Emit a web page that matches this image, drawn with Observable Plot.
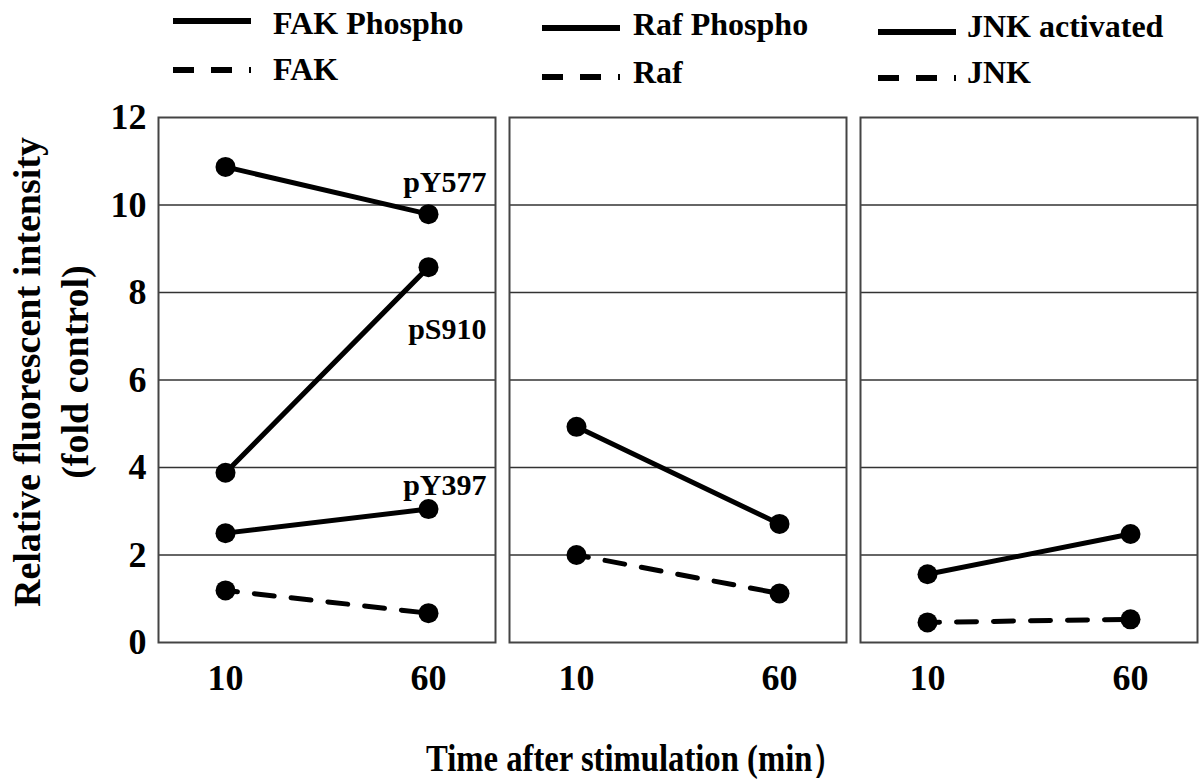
<!DOCTYPE html>
<html>
<head>
<meta charset="utf-8">
<script src="https://cdn.jsdelivr.net/npm/d3@7"></script>
<script src="https://cdn.jsdelivr.net/npm/@observablehq/plot@0.6"></script>
<style>
  html, body { margin: 0; padding: 0; background: white; }
  #wrap { position: relative; width: 1200px; height: 781px; overflow: hidden; background: white;
          font-family: "Liberation Serif", "Times New Roman", serif; font-weight: bold; color: black; }
  .lg { position: absolute; font-size: 32px; line-height: 32px; white-space: nowrap; }
  .sw { position: absolute; }
  #chart { position: absolute; left: 0; top: 100px; }
  #ylab { position: absolute; left: -209px; top: 324px; width: 520px; height: 96px; font-size: 38px; line-height: 48px;
          text-align: center; transform: rotate(-90deg); transform-origin: 260px 48px; white-space: nowrap; }
  #xlab { position: absolute; left: 426px; top: 739px; font-size: 38px; line-height: 38px; white-space: nowrap;
          transform: scaleX(0.86); transform-origin: left center; }
</style>
</head>
<body>
<div id="wrap">
  <div id="legend"></div>
  <div id="chart"></div>
  <div id="ylab">Relative fluorescent intensity<br>(fold control)</div>
  <div id="xlab">Time after stimulation (min）</div>
</div>
<script>
// ---- data ----
const panels = ["FAK", "Raf", "JNK"];
const times = [10, 60];
const fakPY577 = [10.87, 9.79];
const fakPS910 = [3.88, 8.58];
const fakPY397 = [2.50, 3.05];
const fakTotal = [1.19, 0.67];
const rafPhospho = [4.93, 2.71];
const rafTotal = [2.00, 1.12];
const jnkActivated = [1.56, 2.48];
const jnkTotal = [0.46, 0.53];
const yTicks = [0, 2, 4, 6, 8, 10, 12];
const gridTicks = [2, 4, 6, 8, 10];
const siteLabels = ["pY577", "pS910", "pY397"];
const siteLabelY = [10.52, 7.15, 3.58];
const legendSolid = ["FAK Phospho", "Raf Phospho", "JNK activated"];
const legendDashed = ["FAK", "Raf", "JNK"];

const series = [
  {panel: "FAK", name: "pY577", values: fakPY577, dashed: false},
  {panel: "FAK", name: "pS910", values: fakPS910, dashed: false},
  {panel: "FAK", name: "pY397", values: fakPY397, dashed: false},
  {panel: "FAK", name: "FAK", values: fakTotal, dashed: true},
  {panel: "Raf", name: "Raf Phospho", values: rafPhospho, dashed: false},
  {panel: "Raf", name: "Raf", values: rafTotal, dashed: true},
  {panel: "JNK", name: "JNK activated", values: jnkActivated, dashed: false},
  {panel: "JNK", name: "JNK", values: jnkTotal, dashed: true}
];
const rows = series.flatMap(s => times.map((t, i) => ({panel: s.panel, series: s.name, time: t, value: s.values[i], dashed: s.dashed})));
const labels = siteLabels.map((l, i) => ({panel: "FAK", time: 60, value: siteLabelY[i], label: l}));

// ---- legend ----
const legendPos = [
  {sx: 173, sy1: 21, sy2: 70, tx: 273, t1: 7, t2: 53},
  {sx: 542, sy1: 28, sy2: 77, tx: 633, t1: 8, t2: 56},
  {sx: 878, sy1: 32, sy2: 78, tx: 967, t1: 10, t2: 56}
];
const legend = document.getElementById("legend");
legendPos.forEach((p, i) => {
  legend.insertAdjacentHTML("beforeend",
    `<svg class="sw" style="left:${p.sx}px;top:${p.sy1 - 5}px" width="80" height="10"><line x1="0" x2="78" y1="5" y2="5" stroke="black" stroke-width="6"/></svg>` +
    `<div class="lg" style="left:${p.tx}px;top:${p.t1}px">${legendSolid[i]}</div>` +
    `<svg class="sw" style="left:${p.sx}px;top:${p.sy2 - 5}px" width="80" height="10"><line x1="0" x2="78" y1="5" y2="5" stroke="black" stroke-width="6" stroke-dasharray="21,17"/></svg>` +
    `<div class="lg" style="left:${p.tx}px;top:${p.t2}px">${legendDashed[i]}</div>`);
});

// ---- chart ----
const common = {fx: "panel", x: "time", y: "value"};
const chart = Plot.plot({
  width: 1200,
  height: 610,
  marginTop: 17,
  marginBottom: 68,
  marginLeft: 157,
  marginRight: 3,
  style: {fontFamily: "'Liberation Serif', 'Times New Roman', serif", fontWeight: "bold", background: "white", overflow: "visible", color: "black"},
  fx: {domain: panels, paddingInner: 0.04, paddingOuter: 0, axis: null, label: null},
  x: {type: "point", domain: times, padding: 0.33},
  y: {domain: [0, 12]},
  marks: [
    Plot.gridY({ticks: gridTicks, stroke: "#333", strokeOpacity: 1, strokeWidth: 1.5}),
    Plot.frame({stroke: "#444", strokeWidth: 2}),
    Plot.axisY({ticks: yTicks, tickSize: 0, tickPadding: 12, fontSize: 36, label: null}),
    Plot.axisX({ticks: times, tickSize: 0, tickPadding: 22, fontSize: 36, label: null}),
    Plot.line(rows.filter(d => !d.dashed), {...common, z: "series", stroke: "black", strokeWidth: 5}),
    Plot.line(rows.filter(d => d.dashed), {...common, z: "series", stroke: "black", strokeWidth: 5, strokeDasharray: "20,17", strokeDashoffset: 8}),
    Plot.dot(rows, {...common, r: 10, fill: "black"}),
    Plot.text(labels, {...common, text: "label", textAnchor: "end", dx: 58, fontSize: 30})
  ]
});
document.getElementById("chart").appendChild(chart);
</script>
</body>
</html>
